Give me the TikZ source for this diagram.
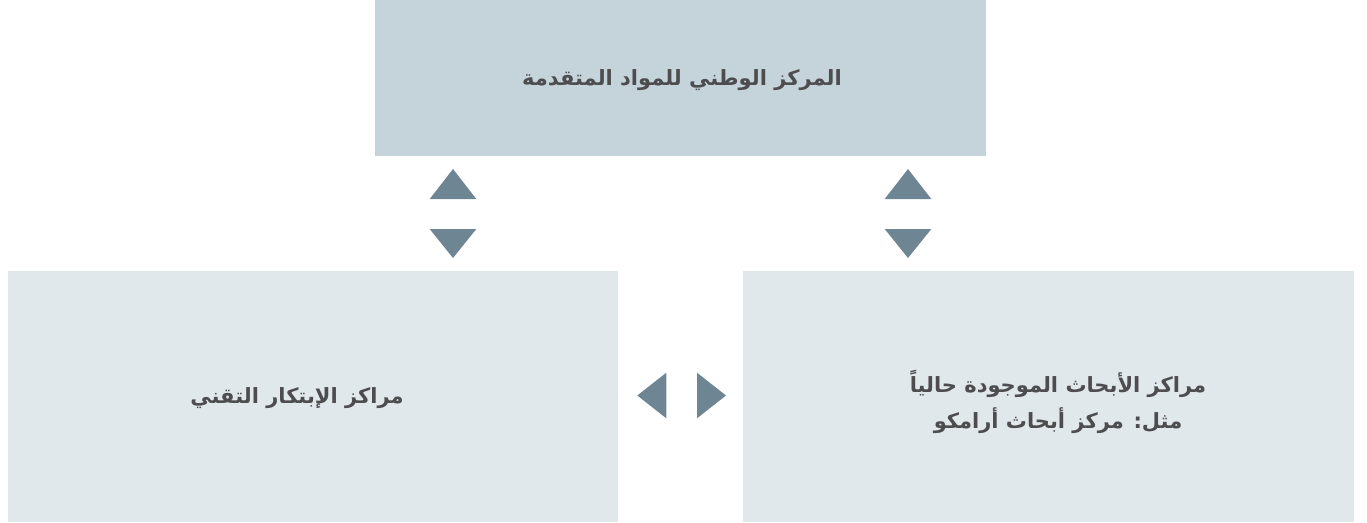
\documentclass[tikz,border=0pt]{standalone}
\usepackage{fontspec}
\TeXXeTstate=1
\newfontfamily\arabicfont[Script=Arabic]{DejaVu Sans}
\definecolor{topfill}{HTML}{C5D3DB}
\definecolor{lowfill}{HTML}{E1E8EC}
\definecolor{trifill}{HTML}{6E8593}
\definecolor{txtcol}{HTML}{4D4D50}
\begin{document}
\begin{tikzpicture}[x=1pt,y=-1pt,
  boxstyle/.style={inner sep=0pt, outer sep=0pt, anchor=north west},
  labelstyle/.style={text=txtcol, font=\arabicfont\bfseries\fontsize{21}{36}\selectfont, align=center, inner sep=0pt},
  tristyle/.style={fill=trifill}]
\useasboundingbox (0,0) rectangle (1367,522);
\node[boxstyle, fill=topfill, minimum width=611pt, minimum height=155.7pt] (topbox) at (375,0) {};
\node[boxstyle, fill=lowfill, minimum width=610.5pt, minimum height=251pt] (leftbox) at (7.5,271) {};
\node[boxstyle, fill=lowfill, minimum width=611pt, minimum height=251pt] (rightbox) at (743,271) {};
\node[labelstyle] (toplabel) at (682,80) {\beginR المركز الوطني للمواد المتقدمة\endR};
\node[labelstyle] (leftlabel) at (297,398) {\beginR مراكز الإبتكار التقني\endR};
\node[labelstyle] (rightlabel) at (1058,402) {\beginR مراكز الأبحاث الموجودة حالياً\endR\\\beginR مثل: مركز أبحاث أرامكو\endR};
% vertical triangles
\fill[tristyle] (429.7,199) -- (453,169) -- (476.3,199) -- cycle;
\fill[tristyle] (429.7,229) -- (453,258) -- (476.3,229) -- cycle;
\fill[tristyle] (884.7,199) -- (908,169) -- (931.3,199) -- cycle;
\fill[tristyle] (884.7,229) -- (908,258) -- (931.3,229) -- cycle;
% horizontal triangles
\fill[tristyle] (666.3,372.7) -- (637.3,395.5) -- (666.3,418.3) -- cycle;
\fill[tristyle] (697,372.7) -- (726,395.5) -- (697,418.3) -- cycle;
\end{tikzpicture}
\end{document}
